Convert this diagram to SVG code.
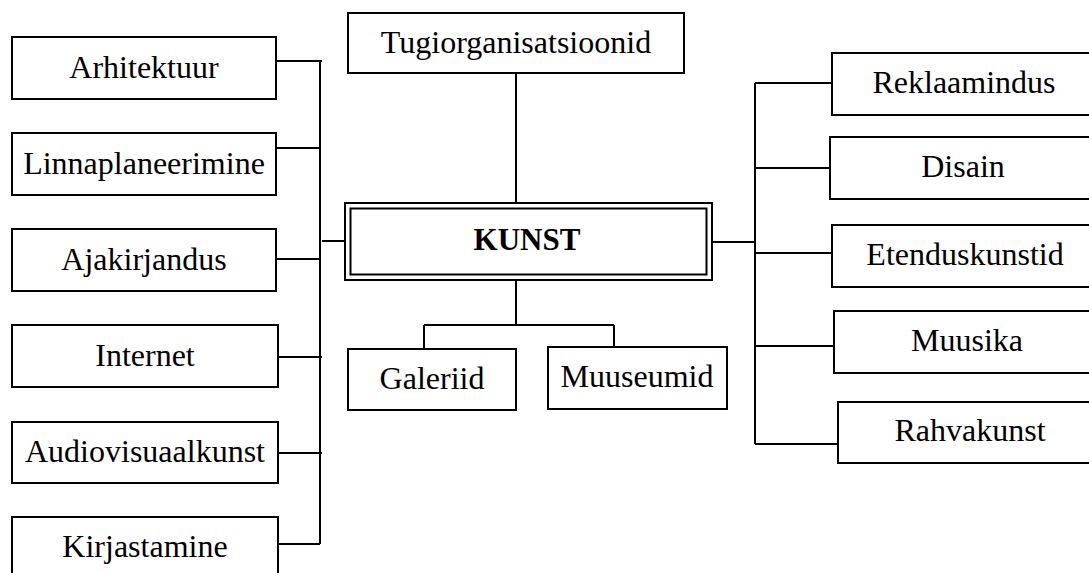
<svg xmlns="http://www.w3.org/2000/svg" width="1089" height="573" viewBox="0 0 1089 573">
<style>
.box{fill:#fff;stroke:#000;stroke-width:2}
.t{font-family:'Liberation Serif','Times New Roman',Times,serif;font-size:32px;fill:#000;text-anchor:middle}
.b{font-weight:bold;font-size:31px}
.ln{fill:none;stroke:#000;stroke-width:2}
</style>
<rect width="1089" height="573" fill="#fff"/>
<g id="connectors" class="ln">
<path d="M320 61V544"/>
<path d="M276 61H322M275 148H320M275 259H320M276 357H322M276 453H322M278 544H320M322 241H346"/>
<path d="M516 73V203M516 280V325M424 325H614M424 325V349M614 325V347"/>
<path d="M755 83V444M707 242H755M755 83H832M755 168H832M755 253H832M755 346H834M755 444H838"/>
</g>
<g id="n-arhitektuur"><rect class="box" x="12" y="37" width="264" height="62"/><text class="t" x="144" y="78">Arhitektuur</text></g>
<g id="n-linnaplaneerimine"><rect class="box" x="12" y="133" width="264" height="62"/><text class="t" x="144" y="174">Linnaplaneerimine</text></g>
<g id="n-ajakirjandus"><rect class="box" x="12" y="229" width="264" height="62"/><text class="t" x="144" y="270">Ajakirjandus</text></g>
<g id="n-internet"><rect class="box" x="12" y="325" width="266" height="62"/><text class="t" x="145" y="366">Internet</text></g>
<g id="n-audiovisuaalkunst"><rect class="box" x="12" y="422" width="266" height="61"/><text class="t" x="145" y="462">Audiovisuaalkunst</text></g>
<g id="n-kirjastamine"><rect class="box" x="12" y="517" width="266" height="62"/><text class="t" x="145" y="557">Kirjastamine</text></g>
<g id="n-tugiorganisatsioonid"><rect class="box" x="348" y="13" width="336" height="60"/><text class="t" x="516" y="53">Tugiorganisatsioonid</text></g>
<g id="n-kunst"><rect class="box" x="345" y="203" width="367" height="77" stroke-width="3"/><rect class="box" x="350.5" y="208.5" width="356" height="66"/><text class="t b" x="527" y="250">KUNST</text></g>
<g id="n-galeriid"><rect class="box" x="348" y="349" width="168" height="61"/><text class="t" x="432" y="389">Galeriid</text></g>
<g id="n-muuseumid"><rect class="box" x="548" y="347" width="179" height="62"/><text class="t" x="637" y="387">Muuseumid</text></g>
<g id="n-reklaamindus"><rect class="box" x="832" y="53" width="268" height="62"/><text class="t" x="964" y="93">Reklaamindus</text></g>
<g id="n-disain"><rect class="box" x="830" y="137" width="270" height="62"/><text class="t" x="963" y="177">Disain</text></g>
<g id="n-etenduskunstid"><rect class="box" x="832" y="225" width="268" height="62"/><text class="t" x="965" y="265">Etenduskunstid</text></g>
<g id="n-muusika"><rect class="box" x="834" y="311" width="266" height="62"/><text class="t" x="967" y="351">Muusika</text></g>
<g id="n-rahvakunst"><rect class="box" x="838" y="402" width="262" height="61"/><text class="t" x="970" y="441">Rahvakunst</text></g>
</svg>
